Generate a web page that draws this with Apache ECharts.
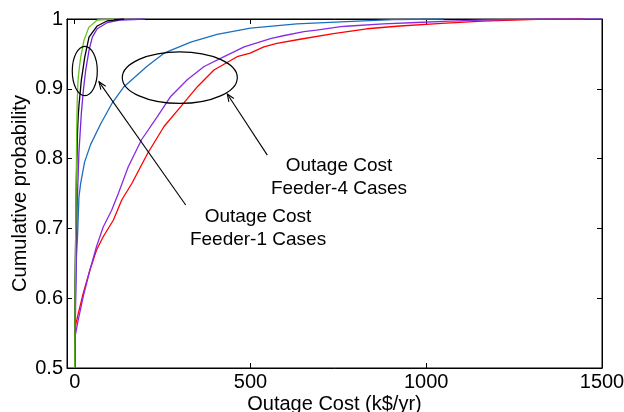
<!DOCTYPE html>
<html>
<head>
<meta charset="utf-8">
<script src="https://cdn.jsdelivr.net/npm/echarts@6/dist/echarts.min.js"></script>
<style>
  html, body { margin: 0; padding: 0; background: #fff; }
  #chart { width: 624px; height: 412px; }
</style>
</head>
<body>
<div id="chart"></div>
<script>
// Empirical CDFs of outage cost, [cost in k$/yr, cumulative probability]
const feeder1Green = [[0,0.5],[1,0.6],[2.5,0.68],[4,0.76],[5.6,0.84],[7,0.88],[9.3,0.912],[13,0.93],[17,0.945],[26,0.969],[40,0.988],[64,0.9986],[112,1.0]];
const feeder1Black = [[0,0.5],[0.8,0.62],[2.7,0.69],[4.5,0.765],[8,0.84],[10,0.862],[12,0.876],[18.7,0.912],[28.4,0.945],[40.6,0.974],[64,0.99],[93,0.9975],[140,1.0]];
const feeder1Purple = [[0,0.5],[2.7,0.6],[4.5,0.67],[7.3,0.74],[12,0.81],[18.7,0.864],[24.4,0.897],[31,0.926],[40.6,0.955],[50,0.974],[64,0.986],[93,0.995],[131,0.9986],[200,1.0]];
const feeder4Blue = [[0,0.5],[2,0.6],[5,0.66],[8,0.69],[12,0.745],[17,0.765],[28,0.795],[45,0.82],[74,0.85],[107,0.88],[140,0.903],[205,0.932],[254,0.951],[330,0.967],[405,0.978],[500,0.987],[632,0.993],[757,0.996],[905,0.999],[1050,1.0]];
const feeder4Purple = [[0,0.5],[0.8,0.545],[10,0.569],[24,0.602],[43,0.64],[62,0.674],[81,0.702],[105,0.726],[124,0.75],[138,0.769],[152,0.788],[190,0.827],[235,0.86],[273,0.889],[320,0.913],[368,0.932],[425,0.946],[482,0.96],[557,0.972],[593,0.976],[652,0.982],[688,0.984],[757,0.989],[783,0.99],[878,0.993],[973,0.995],[1068,0.997],[1161,0.9986],[1257,0.9995],[1350,1.0],[1500,1.0]];
const feeder4Red = [[0,0.5],[0.8,0.554],[3.6,0.564],[10,0.578],[24,0.607],[43,0.64],[62,0.669],[81,0.688],[110,0.712],[134,0.741],[162,0.764],[208,0.808],[254,0.846],[301,0.874],[349,0.903],[396,0.927],[462,0.946],[499,0.951],[538,0.96],[575,0.965],[641,0.971],[736,0.979],[831,0.986],[925,0.99],[1044,0.9936],[1161,0.997],[1314,0.9995],[1450,1.0]];

const xTicks = [0, 500, 1000, 1500];
const yTicks = [0.5, 0.6, 0.7, 0.8, 0.9, 1];

// Callouts: ellipse [centre x, centre p, radius x, radius p]
const calloutEllipses = [[28.6, 0.9255, 35.6, 0.0354], [298.9, 0.916, 163.6, 0.037]];
// Arrows: [tail x, tail p, head x, head p]
const calloutArrows = [[315.7, 0.7335, 69, 0.910], [547.8, 0.805, 434, 0.8926]];
// Callout texts anchored at [x, p]
const calloutAnchors = [[521.4, 0.7006], [751.8, 0.773]];
const calloutTexts = ['Outage Cost\nFeeder-1 Cases', 'Outage Cost\nFeeder-4 Cases'];

const FONT = '"Liberation Sans", Arial, sans-serif';
const X_MIN = -22, X_MAX = 1500;

const chart = echarts.init(document.getElementById('chart'), null, { renderer: 'canvas' });

function curve(name, data, color) {
  return {
    name, type: 'line', data, showSymbol: false, symbol: 'none',
    lineStyle: { color, width: 1.3 }, itemStyle: { color },
    animation: false, silent: true, z: 3
  };
}

const tickLabel = v => (xTicks.indexOf(v) >= 0 ? String(v) : '');

const option = {
  animation: false,
  backgroundColor: '#fff',
  grid: { left: 67, right: 22, top: 19, bottom: 44, outerBoundsMode: 'none', containLabel: false,
          show: true, borderColor: '#000', borderWidth: 1, backgroundColor: 'transparent' },
  xAxis: [
    {
      type: 'value', min: X_MIN, max: X_MAX, splitNumber: 3,
      name: 'Outage Cost (k$/yr)', nameLocation: 'middle', nameGap: 26, nameMoveOverlap: false,
      nameTextStyle: { fontFamily: FONT, fontSize: 20, color: '#000' },
      axisLine: { show: true, onZero: false, lineStyle: { color: '#000', width: 1 } },
      axisTick: { show: true, inside: true, length: 5, lineStyle: { color: '#000' } },
      axisLabel: { fontFamily: FONT, fontSize: 20, color: '#000', margin: 4, formatter: tickLabel, showMinLabel: true, hideOverlap: false },
      splitLine: { show: false }
    },
    {
      type: 'value', min: X_MIN, max: X_MAX, splitNumber: 3, position: 'top',
      axisLine: { show: true, onZero: false, lineStyle: { color: '#000', width: 1 } },
      axisTick: { show: true, inside: true, length: 5, lineStyle: { color: '#000' } },
      axisLabel: { show: false }, splitLine: { show: false }
    }
  ],
  yAxis: [
    {
      type: 'value', min: yTicks[0], max: yTicks[yTicks.length - 1], interval: 0.1,
      name: 'Cumulative probability', nameLocation: 'middle', nameGap: 37, nameMoveOverlap: false,
      nameTextStyle: { fontFamily: FONT, fontSize: 20, color: '#000' },
      axisLine: { show: true, onZero: false, lineStyle: { color: '#000', width: 1 } },
      axisTick: { show: true, inside: true, length: 5, lineStyle: { color: '#000' } },
      axisLabel: { fontFamily: FONT, fontSize: 20, color: '#000', margin: 4, formatter: v => String(+v.toFixed(1)) },
      splitLine: { show: false }
    },
    {
      type: 'value', min: yTicks[0], max: yTicks[yTicks.length - 1], interval: 0.1, position: 'right',
      axisLine: { show: true, onZero: false, lineStyle: { color: '#000', width: 1 } },
      axisTick: { show: true, inside: true, length: 5, lineStyle: { color: '#000' } },
      axisLabel: { show: false }, splitLine: { show: false }
    }
  ],
  series: [
    curve('Feeder-4 red', feeder4Red, '#ff0000'),
    curve('Feeder-4 purple', feeder4Purple, '#8a2be2'),
    curve('Feeder-4 blue', feeder4Blue, '#1a6fc0'),
    curve('Feeder-1 purple', feeder1Purple, '#7a22e0'),
    curve('Feeder-1 black', feeder1Black, '#000000'),
    curve('Feeder-1 green', feeder1Green, '#66c21a'),
    {
      type: 'custom', name: 'ellipses', silent: true, z: 5,
      data: calloutEllipses,
      renderItem: (params, api) => {
        const c = api.coord([api.value(0), api.value(1)]);
        const rx = api.size([api.value(2), 0])[0];
        const ry = api.size([0, api.value(3)])[1];
        return { type: 'ellipse', shape: { cx: c[0], cy: c[1], rx, ry },
                 style: { fill: null, stroke: '#000', lineWidth: 1.2 } };
      }
    },
    {
      type: 'custom', name: 'arrows', silent: true, z: 5,
      data: calloutArrows,
      renderItem: (params, api) => {
        const t = api.coord([api.value(0), api.value(1)]);
        const h = api.coord([api.value(2), api.value(3)]);
        const ang = Math.atan2(h[1] - t[1], h[0] - t[0]);
        const len = 8, spread = 0.38;
        const w1 = [h[0] - len * Math.cos(ang - spread), h[1] - len * Math.sin(ang - spread)];
        const w2 = [h[0] - len * Math.cos(ang + spread), h[1] - len * Math.sin(ang + spread)];
        const st = { stroke: '#000', lineWidth: 1.1, fill: null };
        return { type: 'group', children: [
          { type: 'line', shape: { x1: t[0], y1: t[1], x2: h[0], y2: h[1] }, style: st },
          { type: 'polyline', shape: { points: [w1, h, w2] }, style: st }
        ] };
      }
    },
    {
      type: 'custom', name: 'callouts', silent: true, z: 6,
      data: calloutAnchors,
      renderItem: (params, api) => {
        const p = api.coord([api.value(0), api.value(1)]);
        return { type: 'text', x: p[0], y: p[1],
                 style: { text: calloutTexts[params.dataIndex], align: 'center', verticalAlign: 'middle',
                          font: '19px ' + FONT, fill: '#000', lineHeight: 23 } };
      }
    }
  ]
};

chart.setOption(option);
</script>
</body>
</html>
